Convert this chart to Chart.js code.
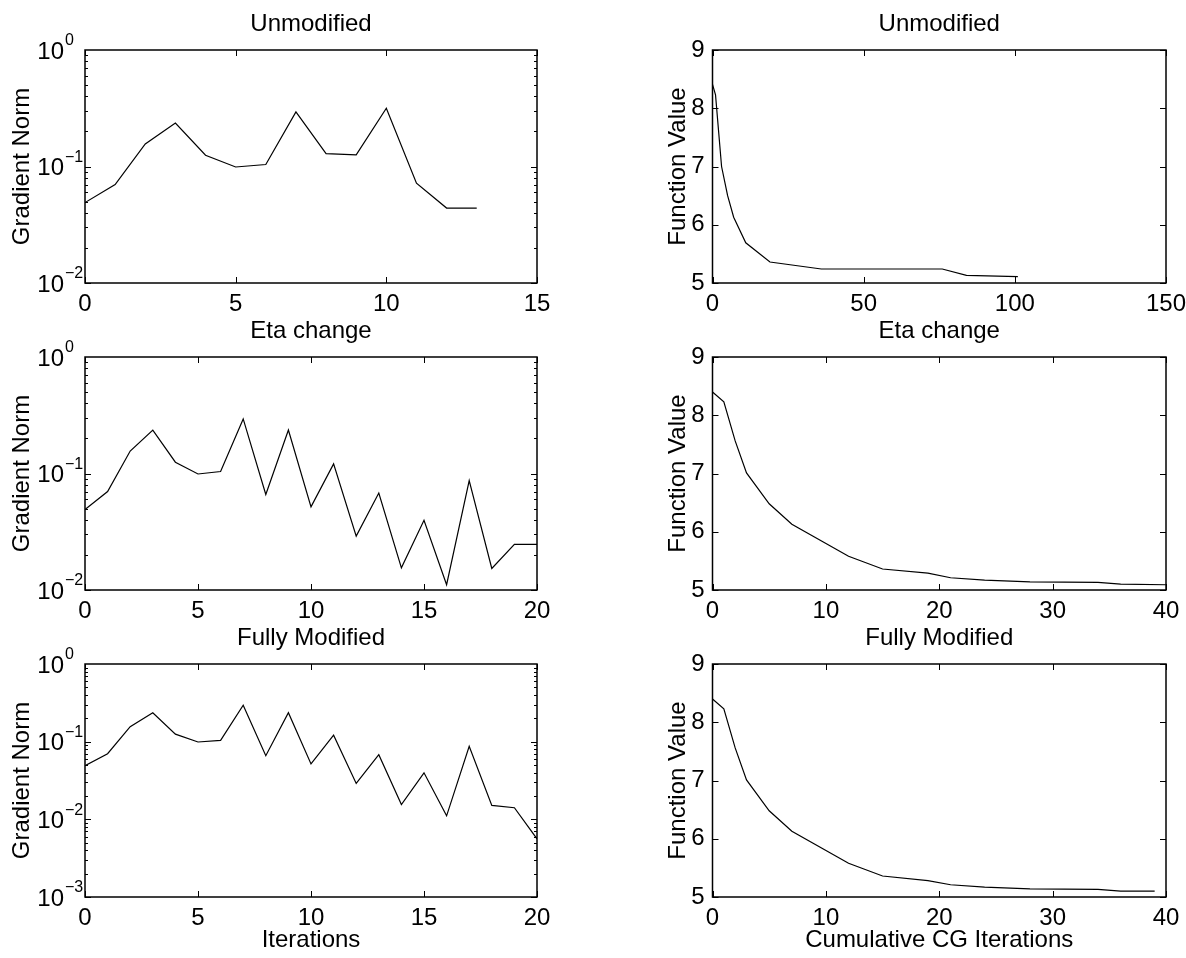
<!DOCTYPE html>
<html>
<head>
<meta charset="utf-8">
<title>Gradient Norm / Function Value</title>
<script src="https://cdn.jsdelivr.net/npm/chart.js@4.4.0/dist/chart.umd.min.js"></script>
<style>
    html, body { margin: 0; padding: 0; background: #fff; }
    body { width: 1186px; height: 958px; position: relative; overflow: hidden; }
    canvas { position: absolute; }
</style>
</head>
<body>
<canvas id="grad-unmod" width="560" height="344" style="left:0;top:0"></canvas>
<canvas id="fval-unmod" width="586" height="344" style="left:600px;top:0"></canvas>
<canvas id="grad-eta" width="560" height="344" style="left:0;top:307px"></canvas>
<canvas id="fval-eta" width="586" height="344" style="left:600px;top:307px"></canvas>
<canvas id="grad-full" width="560" height="344" style="left:0;top:614px"></canvas>
<canvas id="fval-full" width="586" height="344" style="left:600px;top:614px"></canvas>
<script>
// Données
const iterUnmod = [0, 1, 2, 3, 4, 5, 6, 7, 8, 9, 10, 11, 12, 13];
const gradUnmod = [0.049, 0.070, 0.156, 0.236, 0.125, 0.099, 0.104, 0.294, 0.129, 0.126, 0.316, 0.072, 0.044, 0.044];

const iterEta = [0, 1, 2, 3, 4, 5, 6, 7, 8, 9, 10, 11, 12, 13, 14, 15, 16, 17, 18, 19, 20];
const gradEta = [0.049, 0.070, 0.156, 0.236, 0.125, 0.099, 0.104, 0.294, 0.066, 0.236, 0.0517, 0.121, 0.029, 0.068, 0.0155, 0.0397, 0.0111, 0.087, 0.0153, 0.0246, 0.0246];

const iterFull = [0, 1, 2, 3, 4, 5, 6, 7, 8, 9, 10, 11, 12, 13, 14, 15, 16, 17, 18, 19, 20];
const gradFull = [0.049, 0.070, 0.156, 0.236, 0.125, 0.099, 0.104, 0.294, 0.066, 0.236, 0.0517, 0.121, 0.029, 0.068, 0.0155, 0.0397, 0.0111, 0.087, 0.0151, 0.0141, 0.0056];

const cgUnmod = [0, 1, 3, 5, 7, 11, 19, 36, 76, 84, 101];
const fvalUnmod = [8.41, 8.23, 7.00, 6.50, 6.13, 5.69, 5.36, 5.24, 5.24, 5.13, 5.11];

const cgEta = [0, 1, 2, 3, 5, 7, 12, 15, 19, 21, 24, 28, 34, 36, 40];
const fvalEta = [8.40, 8.23, 7.56, 7.01, 6.48, 6.13, 5.58, 5.36, 5.29, 5.21, 5.17, 5.14, 5.13, 5.10, 5.09];

const cgFull = [0, 1, 2, 3, 5, 7, 12, 15, 19, 21, 24, 28, 34, 36, 39];
const fvalFull = [8.40, 8.23, 7.56, 7.01, 6.48, 6.13, 5.58, 5.36, 5.28, 5.21, 5.17, 5.14, 5.13, 5.10, 5.10];

const FONT = '"Liberation Sans", Arial, Helvetica, sans-serif';
const FS = 24;
Chart.defaults.font.family = FONT;
Chart.defaults.color = '#000';

function zeroPad(s) {
    s.paddingLeft = 0; s.paddingRight = 0; s.paddingTop = 0; s.paddingBottom = 0;
}

// cadre + graduations vers l'intérieur, façon MATLAB
const boxPlugin = {
    id: 'boxMatlab',
    afterDatasetsDraw(chart) {
        const { ctx, chartArea: a, scales } = chart;
        const xs = scales.x, ys = scales.y;
        ctx.save();
        ctx.strokeStyle = '#000';
        ctx.lineWidth = 1;
        ctx.beginPath();
        xs.ticks.forEach(t => {
            const px = Math.round(xs.getPixelForValue(t.value)) + 0.5;
            ctx.moveTo(px, a.bottom); ctx.lineTo(px, a.bottom - 6);
            ctx.moveTo(px, a.top); ctx.lineTo(px, a.top + 6);
        });
        let yMarks = [];
        if (ys.type === 'logarithmic') {
            const e0 = Math.round(Math.log10(ys.min)), e1 = Math.round(Math.log10(ys.max));
            for (let e = e0; e < e1; e++) {
                for (let m = 1; m <= 9; m++) yMarks.push({ v: m * Math.pow(10, e), len: m === 1 ? 6 : 3 });
            }
        } else {
            yMarks = ys.ticks.map(t => ({ v: t.value, len: 6 }));
        }
        yMarks.forEach(t => {
            const py = Math.round(ys.getPixelForValue(t.v)) + 0.5;
            ctx.moveTo(a.left, py); ctx.lineTo(a.left + t.len, py);
            ctx.moveTo(a.right, py); ctx.lineTo(a.right - t.len, py);
        });
        ctx.stroke();
        ctx.lineWidth = 1.5;
        ctx.strokeRect(a.left, a.top, a.right - a.left, a.bottom - a.top);

        // étiquettes 10^n
        if (ys.type === 'logarithmic') {
            ctx.fillStyle = '#000';
            const e0 = Math.round(Math.log10(ys.min)), e1 = Math.round(Math.log10(ys.max));
            for (let e = e0; e <= e1; e++) {
                const py = ys.getPixelForValue(Math.pow(10, e));
                ctx.font = FS + 'px ' + FONT;
                ctx.textAlign = 'right';
                ctx.textBaseline = 'middle';
                ctx.fillText('10', a.left - 21, py + 2);
                ctx.font = '16px ' + FONT;
                ctx.textAlign = 'left';
                ctx.fillText(e === 0 ? '0' : '\u2212' + Math.abs(e), a.left - 20, py - 9);
            }
        }
        ctx.restore();
    }
};

function createPanel(canvasId, cfg) {
    const canvas = document.getElementById(canvasId);
    if (!canvas) return;
    const ctx = canvas.getContext('2d');

    const points = cfg.xs.map((x, i) => ({ x: x, y: cfg.ys[i] }));
    const isLog = cfg.yType === 'logarithmic';

    return new Chart(ctx, {
        type: 'line',
        data: {
            datasets: [{
                data: points,
                borderColor: '#000',
                borderWidth: 1.2,
                pointRadius: 0,
                tension: 0,
                fill: false
            }]
        },
        options: {
            responsive: false,
            animation: false,
            devicePixelRatio: 1,
            events: [],
            layout: { padding: { left: 0, top: 0, right: cfg.padRight, bottom: 0 } },
            plugins: {
                legend: { display: false },
                tooltip: { enabled: false },
                title: {
                    display: true,
                    fullSize: false,
                    text: cfg.title,
                    color: '#000',
                    font: { size: FS, weight: 'normal' },
                    padding: { top: 10, bottom: 11.2 }
                }
            },
            scales: {
                x: {
                    type: 'linear',
                    min: cfg.xMin,
                    max: cfg.xMax,
                    grid: { display: false, drawTicks: false },
                    border: { display: false },
                    ticks: { stepSize: cfg.xStep, padding: 7, font: { size: FS }, color: '#000', maxRotation: 0, autoSkip: false },
                    title: {
                        display: !!cfg.xTitle,
                        text: cfg.xTitle || '',
                        color: '#000',
                        font: { size: FS },
                        padding: { top: 0, bottom: 3 }
                    },
                    afterFit: s => { s.height = 61; zeroPad(s); }
                },
                y: {
                    type: cfg.yType,
                    min: cfg.yMin,
                    max: cfg.yMax,
                    grid: { display: false, drawTicks: false },
                    border: { display: false },
                    ticks: isLog ? { display: false } : { stepSize: 1, padding: 8, font: { size: FS }, color: '#000' },
                    title: {
                        display: true,
                        text: cfg.yTitle,
                        color: '#000',
                        font: { size: FS },
                        padding: { top: cfg.yTitlePad, bottom: 0 }
                    },
                    afterFit: s => { s.width = cfg.yWidth; zeroPad(s); }
                }
            }
        },
        plugins: [boxPlugin]
    });
}

document.addEventListener('DOMContentLoaded', function () {
    const left = { padRight: 23, yWidth: 85, yTitlePad: 8, yType: 'logarithmic', yTitle: 'Gradient Norm', xMin: 0 };
    const right = { padRight: 20, yWidth: 112.5, yTitlePad: 64, yType: 'linear', yTitle: 'Function Value', yMin: 5, yMax: 9, xMin: 0 };

    createPanel('grad-unmod', Object.assign({}, left, { xs: iterUnmod, ys: gradUnmod, title: 'Unmodified', xMax: 15, xStep: 5, yMin: 0.01, yMax: 1 }));
    createPanel('fval-unmod', Object.assign({}, right, { xs: cgUnmod, ys: fvalUnmod, title: 'Unmodified', xMax: 150, xStep: 50 }));
    createPanel('grad-eta', Object.assign({}, left, { xs: iterEta, ys: gradEta, title: 'Eta change', xMax: 20, xStep: 5, yMin: 0.01, yMax: 1 }));
    createPanel('fval-eta', Object.assign({}, right, { xs: cgEta, ys: fvalEta, title: 'Eta change', xMax: 40, xStep: 10 }));
    createPanel('grad-full', Object.assign({}, left, { xs: iterFull, ys: gradFull, title: 'Fully Modified', xMax: 20, xStep: 5, yMin: 0.001, yMax: 1, xTitle: 'Iterations' }));
    createPanel('fval-full', Object.assign({}, right, { xs: cgFull, ys: fvalFull, title: 'Fully Modified', xMax: 40, xStep: 10, xTitle: 'Cumulative CG Iterations' }));
});
</script>
</body>
</html>
